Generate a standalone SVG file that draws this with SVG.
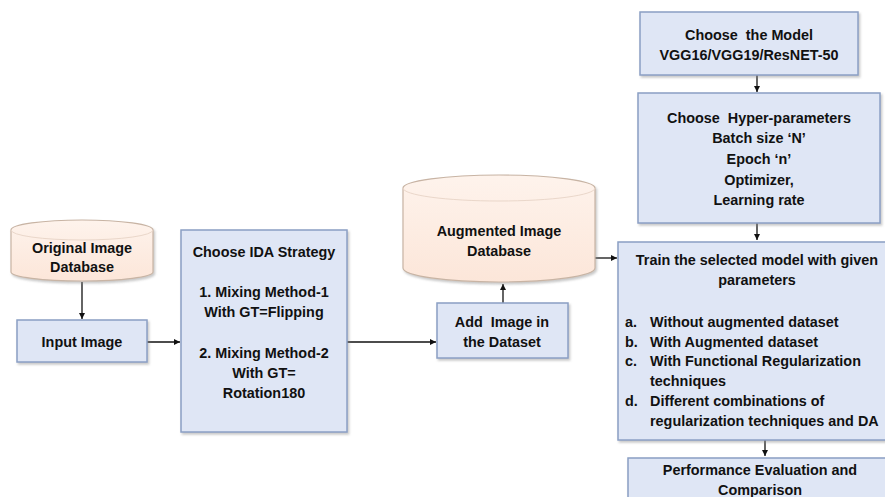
<svg xmlns="http://www.w3.org/2000/svg" width="885" height="497" viewBox="0 0 885 497">
<style>
.box{fill:#dfe6f5;stroke:#8b9fc4;stroke-width:1.5;filter:url(#sh)}
.cyl{fill:url(#pg);stroke:#c8b4a4;stroke-width:1.2;filter:url(#sh)}
.rim{fill:none;stroke:#ead7ca;stroke-width:1}
text{font-family:"Liberation Sans",Arial,sans-serif;font-weight:bold;font-size:14.4px;fill:#111;white-space:pre}
.c{text-anchor:middle}
.ln{stroke:#111;stroke-width:1.3;fill:none}
</style>
<defs>
<linearGradient id="pg" x1="0" y1="0" x2="0" y2="1">
<stop offset="0" stop-color="#fef3ec"/>
<stop offset="1" stop-color="#fce6d9"/>
</linearGradient>
<filter id="sh" x="-10%" y="-10%" width="120%" height="130%">
<feDropShadow dx="1.5" dy="2" stdDeviation="1" flood-color="#888" flood-opacity="0.45"/>
</filter>
<marker id="ah" markerWidth="8" markerHeight="8" refX="6" refY="3" orient="auto" markerUnits="userSpaceOnUse">
<path d="M0,0 L6,3 L0,6 z" fill="#111"/>
</marker>
</defs>
<g id="connectors">
<line class="ln" x1="82" y1="282" x2="82" y2="319" marker-end="url(#ah)"/>
<line class="ln" x1="147" y1="342" x2="180" y2="342" marker-end="url(#ah)"/>
<line class="ln" x1="347" y1="342" x2="436" y2="342" marker-end="url(#ah)"/>
<line class="ln" x1="503" y1="303" x2="503" y2="284" marker-end="url(#ah)"/>
<line class="ln" x1="595" y1="258" x2="617" y2="258" marker-end="url(#ah)"/>
<line class="ln" x1="757" y1="75" x2="757" y2="92" marker-end="url(#ah)"/>
<line class="ln" x1="757" y1="223" x2="757" y2="240" marker-end="url(#ah)"/>
<line class="ln" x1="765" y1="440" x2="765" y2="456" marker-end="url(#ah)"/>
</g>
<g id="original-db">
<path class="cyl" d="M11,230 A71,10 0 0 1 153,230 L153,272 A71,9 0 0 1 11,272 Z"/>
<path class="rim" d="M11,230 A71,10 0 0 0 153,230"/>
<text class="c" x="82" y="253">Original Image</text>
<text class="c" x="82" y="272">Database</text>
</g>
<g id="input-image">
<rect class="box" x="17" y="320" width="130" height="42"/>
<text class="c" x="82" y="347">Input Image</text>
</g>
<g id="ida-strategy">
<rect class="box" x="181" y="230" width="166" height="202"/>
<text class="c" x="264" y="257">Choose IDA Strategy</text>
<text class="c" x="264" y="297">1. Mixing Method-1</text>
<text class="c" x="264" y="317">With GT=Flipping</text>
<text class="c" x="264" y="358">2. Mixing Method-2</text>
<text class="c" x="264" y="378">With GT=</text>
<text class="c" x="264" y="398">Rotation180</text>
</g>
<g id="augmented-db">
<path class="cyl" d="M403,188 A96,13 0 0 1 595,188 L595,268 A96,14 0 0 1 403,268 Z"/>
<path class="rim" d="M403,188 A96,13 0 0 0 595,188"/>
<text class="c" x="499" y="236">Augmented Image</text>
<text class="c" x="499" y="256">Database</text>
</g>
<g id="add-image">
<rect class="box" x="437" y="303" width="131" height="55"/>
<text class="c" x="502" y="327">Add  Image in</text>
<text class="c" x="502" y="347">the Dataset</text>
</g>
<g id="choose-model">
<rect class="box" x="640" y="12" width="218" height="63"/>
<text class="c" x="749" y="40">Choose  the Model</text>
<text class="c" x="749" y="60">VGG16/VGG19/ResNET-50</text>
</g>
<g id="hyper-parameters">
<rect class="box" x="638" y="93" width="242" height="130"/>
<text class="c" x="759" y="123">Choose  Hyper-parameters</text>
<text class="c" x="759" y="143">Batch size ‘N’</text>
<text class="c" x="759" y="164">Epoch ‘n’</text>
<text class="c" x="759" y="185">Optimizer,</text>
<text class="c" x="759" y="205">Learning rate</text>
</g>
<g id="train-model">
<rect class="box" x="618" y="242" width="280" height="198"/>
<text class="c" x="757" y="265">Train the selected model with given</text>
<text class="c" x="757" y="285">parameters</text>
<text x="625" y="327">a.</text><text x="650" y="327">Without augmented dataset</text>
<text x="625" y="347">b.</text><text x="650" y="347">With Augmented dataset</text>
<text x="625" y="366">c.</text><text x="650" y="366">With Functional Regularization</text>
<text x="650" y="386">techniques</text>
<text x="625" y="406">d.</text><text x="650" y="406">Different combinations of</text>
<text x="650" y="426">regularization techniques and DA</text>
</g>
<g id="performance">
<rect class="box" x="628" y="458" width="270" height="50"/>
<text class="c" x="760" y="475">Performance Evaluation and</text>
<text class="c" x="760" y="495">Comparison</text>
</g>
</svg>
